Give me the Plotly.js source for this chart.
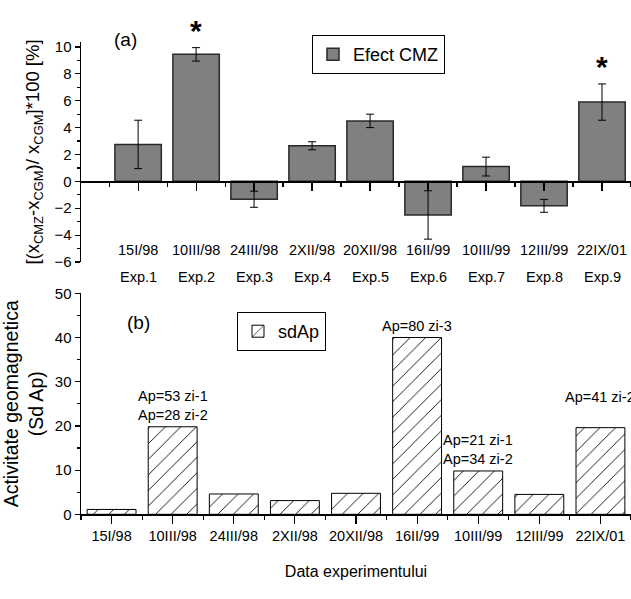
<!DOCTYPE html>
<html>
<head>
<meta charset="utf-8">
<script src="https://cdn.plot.ly/plotly-3.0.1.min.js"></script>
<style>html,body{margin:0;padding:0;background:#fff;}#chart{width:631px;height:599px;}</style>
</head>
<body>
<div id="chart"></div>
<script>
// ---- data ----
const positions = [1, 2, 3, 4, 5, 6, 7, 8, 9];
const dateLabels = ['15I/98', '10III/98', '24III/98', '2XII/98', '20XII/98', '16II/99', '10III/99', '12III/99', '22IX/01'];
const expLabels = ['Exp.1', 'Exp.2', 'Exp.3', 'Exp.4', 'Exp.5', 'Exp.6', 'Exp.7', 'Exp.8', 'Exp.9'];
const efectCMZ = [2.75, 9.45, -1.33, 2.65, 4.5, -2.5, 1.1, -1.82, 5.9];
const efectErr = [1.8, 0.5, 0.6, 0.3, 0.5, 1.8, 0.7, 0.48, 1.35];
const significant = [false, true, false, false, false, false, false, false, true];
const sdAp = [1.1, 19.8, 4.6, 3.1, 4.75, 40.0, 9.8, 4.5, 19.6];
const apNotes = ['', 'Ap=53 zi-1<br>Ap=28 zi-2', '', '', '', 'Ap=80 zi-3', 'Ap=21 zi-1<br>Ap=34 zi-2', '', 'Ap=41 zi-2<br> '];

// ---- styling ----
const FONT = 'Liberation Sans, Arial, sans-serif';
const W = 631, H = 599;
const px = v => v / W;           // horizontal pixel -> paper
const py = v => 1 - v / H;       // vertical pixel -> paper

const yTopRange = [-6, 10.37];
const yTopDomain = [py(262), py(42)];
const zeroPos = yTopDomain[0] + (0 - yTopRange[0]) / (yTopRange[1] - yTopRange[0]) * (yTopDomain[1] - yTopDomain[0]);

const traces = [
  {
    type: 'bar', name: 'Efect CMZ', x: positions, y: efectCMZ, xaxis: 'x', yaxis: 'y',
    width: 0.8, legend: 'legend',
    marker: {color: '#808080', line: {color: '#2a2a2a', width: 1.5}},
    error_y: {type: 'data', array: efectErr, visible: true, color: '#000', thickness: 1, width: 4}
  },
  {
    type: 'bar', name: 'sdAp', x: positions, y: sdAp, xaxis: 'x2', yaxis: 'y2',
    width: 0.8, legend: 'legend2',
    marker: {color: '#fff', line: {color: '#000', width: 1},
      pattern: {shape: '/', fgcolor: '#000', bgcolor: '#fff', size: 11, solidity: 0.08}}
  }
];

const annotations = [];
positions.forEach((p, i) => {
  annotations.push({x: p, y: -5.1, xref: 'x', yref: 'y', text: dateLabels[i], showarrow: false,
    font: {family: FONT, size: 14.5, color: '#000'}});
  annotations.push({x: p, y: py(277), xref: 'x', yref: 'paper', text: expLabels[i], showarrow: false,
    font: {family: FONT, size: 14.5, color: '#000'}});
  if (significant[i]) {
    annotations.push({x: p, y: efectCMZ[i] + efectErr[i], xref: 'x', yref: 'y', text: '<b>*</b>',
      showarrow: false, yanchor: 'bottom', yshift: -1, font: {family: FONT, size: 30, color: '#000'}});
  }
  if (apNotes[i]) {
    annotations.push({x: p, y: sdAp[i], xref: 'x2', yref: 'y2', text: apNotes[i], showarrow: false,
      yanchor: 'bottom', yshift: 2, font: {family: FONT, size: 14.5, color: '#000'}});
  }
});
annotations.push({x: px(112), y: py(27), xref: 'paper', yref: 'paper', text: '(a)', showarrow: false,
  font: {family: FONT, size: 19, color: '#000'}});
annotations.push({x: px(125), y: py(322), xref: 'paper', yref: 'paper', text: '(b)', showarrow: false,
  font: {family: FONT, size: 19, color: '#000'}});

const axisCommon = {showline: true, linecolor: '#000', linewidth: 1.5, ticks: 'outside', tickcolor: '#000',
  tickwidth: 1.2, showgrid: false, zeroline: false, tickfont: {family: FONT, size: 15, color: '#000'}};

const layout = {
  width: W, height: H, margin: {l: 0, r: 0, t: 0, b: 0},
  paper_bgcolor: '#fff', plot_bgcolor: 'rgba(0,0,0,0)',
  barmode: 'group', showlegend: true,
  xaxis: Object.assign({}, axisCommon, {domain: [px(81), 1], range: [0.015, 9.5], anchor: 'free', position: zeroPos,
    tickvals: positions, showticklabels: false, ticklen: 8,
    minor: {tick0: 0.5, dtick: 1, ticks: 'outside', ticklen: 4, tickcolor: '#000', tickwidth: 1.2}}),
  yaxis: Object.assign({}, axisCommon, {domain: yTopDomain, range: yTopRange, anchor: 'x', dtick: 2, ticklen: 5,
    minor: {dtick: 1, ticks: 'outside', ticklen: 3, tickcolor: '#000', tickwidth: 1.2},
    title: {text: '[(x<sub>CMZ</sub>-x<sub>CGM</sub>)/ x<sub>CGM</sub>]*100 [%]', standoff: 10,
      font: {family: FONT, size: 18.5, color: '#000'}}}),
  xaxis2: Object.assign({}, axisCommon, {domain: [px(81), 1], range: [0.5, 9.5], anchor: 'y2',
    tickvals: positions, ticktext: dateLabels, ticklen: 8, tickangle: 0,
    tickfont: {family: FONT, size: 14.5, color: '#000'},
    minor: {tick0: 0.5, dtick: 1, ticks: 'outside', ticklen: 4, tickcolor: '#000', tickwidth: 1.2},
    title: {text: 'Data experimentului', standoff: 22, font: {family: FONT, size: 16, color: '#000'}}}),
  yaxis2: Object.assign({}, axisCommon, {domain: [py(514.3), py(293.3)], range: [0, 50], anchor: 'x2', dtick: 10, ticklen: 5,
    minor: {dtick: 5, ticks: 'outside', ticklen: 3, tickcolor: '#000', tickwidth: 1.2},
    title: {text: 'Activitate geomagnetica<br>(Sd Ap)', standoff: 8, font: {family: FONT, size: 19.5, color: '#000'}}}),
  legend: {x: px(312), y: py(35), xanchor: 'left', yanchor: 'top', bordercolor: '#000', borderwidth: 1,
    bgcolor: '#fff', font: {family: FONT, size: 18, color: '#000'}},
  legend2: {x: px(237), y: py(312), xanchor: 'left', yanchor: 'top', bordercolor: '#000', borderwidth: 1,
    bgcolor: '#fff', font: {family: FONT, size: 18, color: '#000'}},
  annotations: annotations
};

Plotly.newPlot('chart', traces, layout, {displayModeBar: false, staticPlot: true});
</script>
</body>
</html>
